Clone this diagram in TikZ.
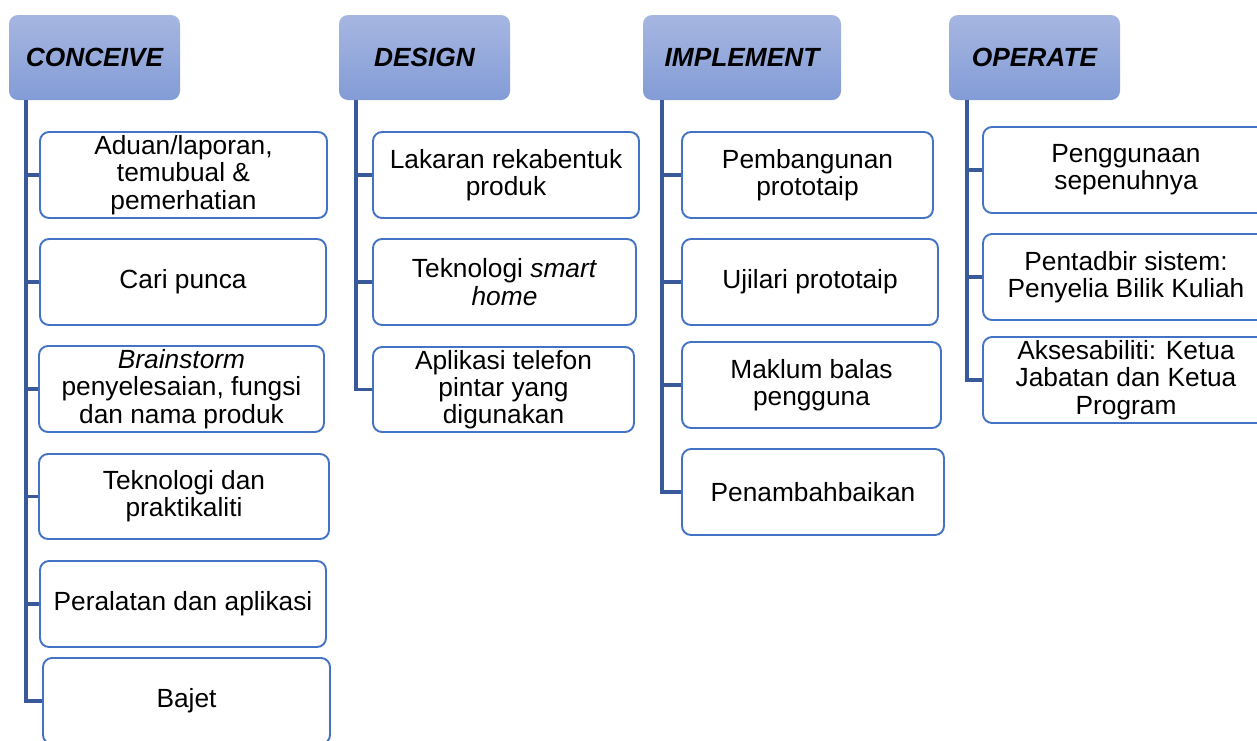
\documentclass[tikz,border=0pt]{standalone}
\usepackage{fontspec}
\setmainfont{Liberation Sans}
\definecolor{boxblue}{RGB}{68,114,196}
\definecolor{linkblue}{RGB}{58,89,155}
\definecolor{headtop}{RGB}{166,182,225}
\definecolor{headbot}{RGB}{131,156,214}
\tikzset{
  head/.style={rounded corners=9pt, top color=headtop, bottom color=headbot, draw=none,
    minimum height=85pt, inner sep=0pt, font=\fontsize{26.3}{27}\selectfont\bfseries\itshape},
  child/.style={draw=boxblue, line width=1.9pt, rounded corners=9pt, fill=white,
    minimum height=86pt, inner sep=0pt, align=center, font=\fontsize{26.3}{27.2}\selectfont},
  link/.style={draw=linkblue, line width=3.2pt}
}
\begin{document}
\begin{tikzpicture}[x=1pt,y=-1pt]
\useasboundingbox (0,0) rectangle (1257,740);
\clip (0,0) rectangle (1257,740);
% headers
\node[head, minimum width=171pt] (h1) at (94.5,57.5) {CONCEIVE};
\node[head, minimum width=171pt] (h2) at (424.5,57.5) {DESIGN};
\node[head, minimum width=198pt] (h3) at (742,57.5) {IMPLEMENT};
\node[head, minimum width=171pt] (h4) at (1034.5,57.5) {OPERATE};
% spine tops
\coordinate (s1) at (26,100);
\coordinate (s2) at (356,100);
\coordinate (s3) at (662,100);
\coordinate (s4) at (967,100);
% connectors
\draw[link] (s1) |- (183,701);
\draw[link] (s2) |- (503,389.5);
\draw[link] (s3) |- (813,492);
\draw[link] (s4) |- (1126,380);
% CONCEIVE
\node[child, minimum width=287pt] (c1) at (183.5,175) {Aduan/laporan,\\temubual \&\\pemerhatian};
\node[child, minimum width=286pt] (c2) at (183,282) {Cari punca};
\node[child, minimum width=285pt] (c3) at (181.5,389) {\textit{Brainstorm}\\penyelesaian, fungsi\\dan nama produk};
\node[child, minimum width=290pt, minimum height=85pt] (c4) at (184,496.5) {Teknologi dan\\praktikaliti};
\node[child, minimum width=286pt] (c5) at (183,604) {Peralatan dan aplikasi};
\node[child, minimum width=287pt] (c6) at (186.5,701) {Bajet};
% DESIGN
\node[child, minimum width=266pt] (d1) at (506,175) {Lakaran rekabentuk\\produk};
\node[child, minimum width=263pt] (d2) at (504.5,282) {Teknologi \textit{smart}\\\textit{home}};
\node[child, minimum width=261pt, minimum height=85pt] (d3) at (503.5,389.5) {Aplikasi telefon\\pintar yang\\digunakan};
% IMPLEMENT
\node[child, minimum width=251pt] (i1) at (807.5,175) {Pembangunan\\prototaip};
\node[child, minimum width=256pt] (i2) at (810,282) {Ujilari prototaip};
\node[child, minimum width=259pt] (i3) at (811.5,385) {Maklum balas\\pengguna};
\node[child, minimum width=262pt] (i4) at (813,492) {Penambahbaikan};
% OPERATE
\node[child, minimum width=286pt] (o1) at (1126,170) {Penggunaan\\sepenuhnya};
\node[child, minimum width=286pt] (o2) at (1126,277) {Pentadbir sistem:\\Penyelia Bilik Kuliah};
\node[child, minimum width=286pt] (o3) at (1126,380) {Aksesabiliti: Ketua\\Jabatan dan Ketua\\Program};
% branches
\foreach \n in {c1,c2,c3,c4,c5,c6} \draw[link] (s1 |- \n.west) -- (\n.west);
\foreach \n in {d1,d2,d3} \draw[link] (s2 |- \n.west) -- (\n.west);
\foreach \n in {i1,i2,i3,i4} \draw[link] (s3 |- \n.west) -- (\n.west);
\foreach \n in {o1,o2,o3} \draw[link] (s4 |- \n.west) -- (\n.west);
\end{tikzpicture}
\end{document}
